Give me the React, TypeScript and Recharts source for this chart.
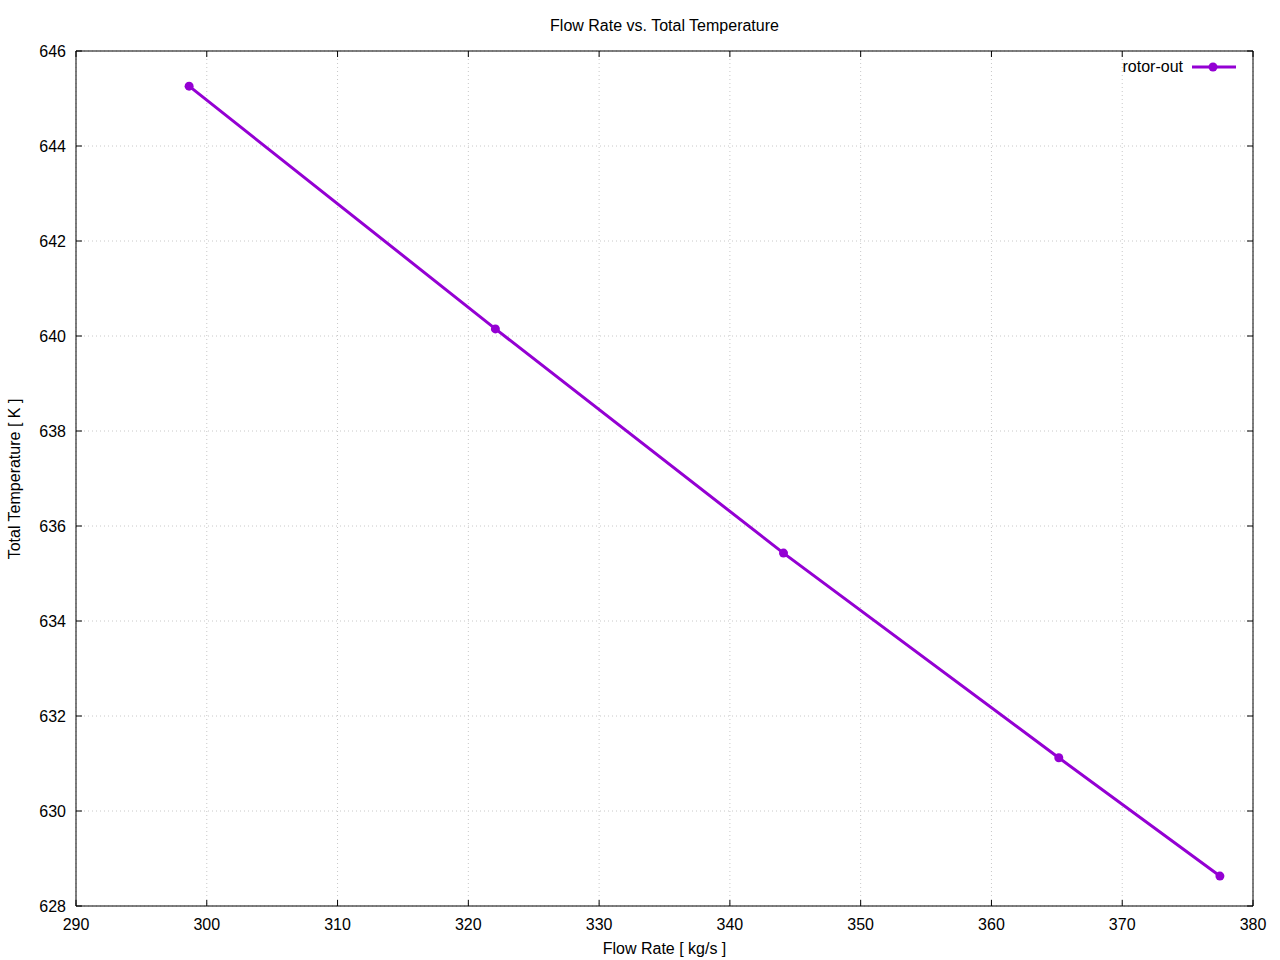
import React from 'react';
import { LineChart, Line, XAxis, YAxis, CartesianGrid } from 'recharts';

const flowRate = [298.65, 322.07, 344.1, 365.15, 377.47];
const totalTemp = [645.26, 640.15, 635.43, 631.12, 628.63];
const xTicks = [290, 300, 310, 320, 330, 340, 350, 360, 370, 380];
const yTicks = [628, 630, 632, 634, 636, 638, 640, 642, 644, 646];
const seriesName = 'rotor-out';

const data = flowRate.map((x, i) => ({ x, y: totalTemp[i] }));

const COLOR = '#9400d3';
const FONT = '"Liberation Sans", Arial, sans-serif';

const EmptyTick = () => <g />;

export default function App() {
  const tickStyle = { fill: '#000', fontSize: 16, fontFamily: FONT };
  return (
    <div style={{ position: 'absolute', left: 0, top: 0, width: 1280, height: 960, background: '#fff' }}>
      <LineChart width={1280} height={960} data={data} margin={{ top: 50, right: 26, bottom: 24, left: 16 }}>
        <CartesianGrid xAxisId="b" yAxisId="l" stroke="#c8c8c8" strokeDasharray="1 3" />
        <XAxis xAxisId="b" dataKey="x" type="number" domain={[290, 380]} ticks={xTicks} orientation="bottom"
          height={30} tickSize={-6} tickMargin={19} stroke="#000" tick={tickStyle} interval={0} allowDataOverflow />
        <XAxis xAxisId="t" dataKey="x" type="number" domain={[290, 380]} ticks={xTicks} orientation="top"
          height={1} tickSize={-6} stroke="#000" tick={<EmptyTick />} interval={0} allowDataOverflow />
        <YAxis yAxisId="l" dataKey="y" type="number" domain={[628, 646]} ticks={yTicks} orientation="left"
          width={60} tickSize={-6} tickMargin={16} stroke="#000" tick={tickStyle} interval={0} allowDataOverflow />
        <YAxis yAxisId="r" dataKey="y" type="number" domain={[628, 646]} ticks={yTicks} orientation="right"
          width={1} tickSize={-6} stroke="#000" tick={<EmptyTick />} interval={0} allowDataOverflow />
        <Line xAxisId="b" yAxisId="l" dataKey="y" name={seriesName} stroke={COLOR} strokeWidth={3}
          dot={{ r: 4.5, fill: COLOR, stroke: COLOR, strokeWidth: 0 }} isAnimationActive={false} />
      </LineChart>
      <div style={{ position: 'absolute', left: 76, width: 1177, top: 16, textAlign: 'center', fontFamily: FONT, fontSize: 16, lineHeight: '20px' }}>
        Flow Rate vs. Total Temperature
      </div>
      <div style={{ position: 'absolute', left: 76, width: 1177, top: 939, textAlign: 'center', fontFamily: FONT, fontSize: 16, lineHeight: '20px' }}>
        Flow Rate [ kg/s ]
      </div>
      <div style={{ position: 'absolute', left: 15, top: 479, width: 0, height: 0 }}>
        <div style={{ position: 'absolute', transform: 'translate(-50%, -50%) rotate(-90deg)', whiteSpace: 'nowrap', fontFamily: FONT, fontSize: 16, lineHeight: '20px' }}>
          Total Temperature [ K ]
        </div>
      </div>
      <div style={{ position: 'absolute', right: 44, top: 57, display: 'flex', alignItems: 'center', fontFamily: FONT, fontSize: 16, lineHeight: '20px', color: '#000' }}>
        <span style={{ marginRight: 9 }}>{seriesName}</span>
        <svg width={44} height={12} style={{ display: 'block' }}>
          <line x1={0} y1={6} x2={44} y2={6} stroke={COLOR} strokeWidth={3} />
          <circle cx={21} cy={6} r={4.5} fill={COLOR} />
        </svg>
      </div>
    </div>
  );
}
